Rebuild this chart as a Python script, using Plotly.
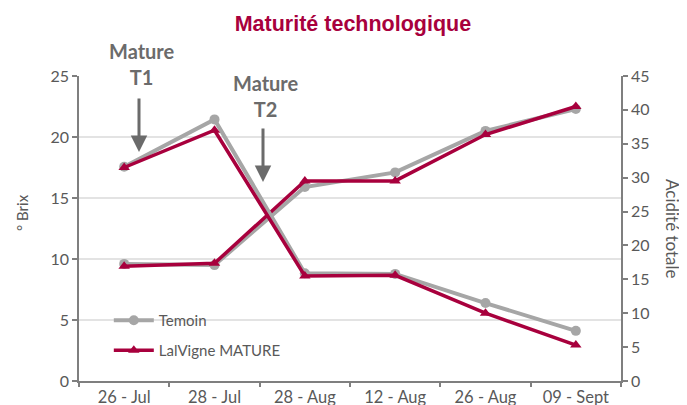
import plotly.graph_objects as go

dates = ["26 - Jul", "28 - Jul", "28 - Aug", "12 - Aug", "26 - Aug", "09 - Sept"]

brix_temoin = [9.6, 9.5, 15.9, 17.1, 20.5, 22.3]
brix_lalvigne = [9.4, 9.65, 16.4, 16.4, 20.2, 22.5]

acid_temoin = [31.6, 38.6, 15.9, 15.8, 11.5, 7.4]
acid_lalvigne = [31.5, 37.0, 15.5, 15.6, 10.0, 5.3]

gris = "#a6a6a6"
rouge = "#a8003d"
texte = "#595959"
axe = "#7f7f7f"
police = "Lato, 'Liberation Sans', sans-serif"

fig = go.Figure()

# Brix (axe gauche)
fig.add_trace(go.Scatter(x=dates, y=brix_temoin, name="Temoin", mode="lines+markers", legend="legend",
                         line=dict(color=gris, width=4), marker=dict(symbol="circle", size=10, color=gris)))
fig.add_trace(go.Scatter(x=dates, y=brix_lalvigne, name="LalVigne MATURE", mode="lines+markers", legend="legend2",
                         line=dict(color=rouge, width=3.5), marker=dict(symbol="triangle-up", size=10, color=rouge)))

# Acidité (axe droit)
fig.add_trace(go.Scatter(x=dates, y=acid_temoin, yaxis="y2", mode="lines+markers", showlegend=False,
                         line=dict(color=gris, width=4), marker=dict(symbol="circle", size=10, color=gris)))
fig.add_trace(go.Scatter(x=dates, y=acid_lalvigne, yaxis="y2", mode="lines+markers", showlegend=False,
                         line=dict(color=rouge, width=3.5), marker=dict(symbol="triangle-up", size=10, color=rouge)))

# la page a une marge de 8px : on compense
fig.update_layout(
    width=679, height=397,
    margin=dict(l=71, r=66, t=68, b=24),
    paper_bgcolor="white", plot_bgcolor="white",
    font=dict(family=police, color=texte, size=15),
    title=dict(text="<b>Maturité technologique</b>", x=0.508, xanchor="center", y=0.962, yanchor="middle",
               font=dict(family="'Liberation Sans', Arial, sans-serif", size=21.5, color=rouge)),
    xaxis=dict(type="category", showline=True, linecolor=axe, linewidth=1.5, ticks="outside",
               tickson="boundaries", ticklen=4, tickcolor=axe, tickwidth=1.5, automargin=False,
               tickfont=dict(size=16.5), showgrid=False, range=[-0.5, 5.5]),
    yaxis=dict(range=[0, 25], dtick=5, showline=True, linecolor=axe, linewidth=1.5, ticks="outside",
               ticklen=5, tickcolor=axe, tickwidth=1.5, showgrid=True, gridcolor="#e3e3e3", gridwidth=1.5,
               zeroline=False, tickfont=dict(size=16), automargin=False),
    yaxis2=dict(range=[0, 45], dtick=5, overlaying="y", side="right", showline=True, linecolor=axe,
                linewidth=1.5, ticks="outside", ticklen=5, tickcolor=axe, tickwidth=1.5, showgrid=False,
                zeroline=False, tickfont=dict(size=16), automargin=False),
    legend=dict(x=0.055, y=(381 - 304) / 305, xanchor="left", yanchor="top", bgcolor="rgba(0,0,0,0)",
                font=dict(size=15, color=texte), itemwidth=40),
    legend2=dict(x=0.055, y=(381 - 334) / 305, xanchor="left", yanchor="top", bgcolor="rgba(0,0,0,0)",
                 font=dict(size=15, color=texte), itemwidth=40),
)

annots = [
    dict(text="° Brix", x=22, y=213, textangle=-90, size=15),
    dict(text="Acidité totale", x=673, y=229, textangle=90, size=17),
]
for a in annots:
    fig.add_annotation(text=a["text"], xref="paper", yref="paper",
                       x=(a["x"] - 79) / 542, y=(381 - a["y"]) / 305,
                       xanchor="center", yanchor="middle",
                       textangle=a["textangle"], showarrow=False,
                       font=dict(size=a["size"], color=texte))

# Mature T1 / T2
for lab, xt, yt, y0, y1 in [("Mature<br>T1", 142, 64, 97, 152), ("Mature<br>T2", 266, 96, 127, 182)]:
    fig.add_annotation(text=f"<b>{lab}</b>", xref="paper", yref="paper",
                       x=(xt - 79) / 542, y=(381 - yt) / 305, showarrow=False,
                       font=dict(size=20, color="#6b6b6b"), xanchor="center", yanchor="middle")
    fig.add_annotation(text="", xref="paper", yref="paper",
                       x=(xt - 3 - 79) / 542, y=(381 - y1) / 305,
                       ax=0, ay=-(y1 - y0), showarrow=True, arrowhead=2, arrowsize=1.1,
                       arrowwidth=3, arrowcolor="#6b6b6b")

fig.write_html("out.html")
